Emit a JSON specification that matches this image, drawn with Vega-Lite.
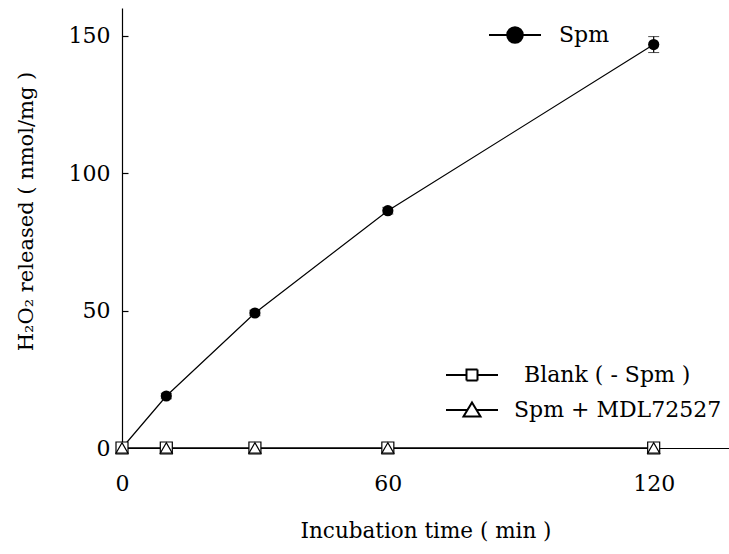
{
  "$schema": "https://vega.github.io/schema/vega-lite/v6.json",
  "width": 607,
  "height": 440,
  "autosize": {"type": "none"},
  "padding": {"left": 122, "top": 8, "right": 0, "bottom": 106},
  "background": "white",
  "config": {
    "view": {"stroke": null},
    "font": "DejaVu Serif",
    "axis": {"labelFont": "DejaVu Serif", "titleFont": "DejaVu Serif", "labelColor": "black", "titleColor": "black", "domainColor": "black", "tickColor": "black", "titleFontWeight": "normal", "grid": false, "domainWidth": 1.2, "tickWidth": 1.2},
    "legend": {"labelFont": "DejaVu Serif", "labelColor": "black", "padding": 0, "labelLimit": 0}
  },
  "data": {
    "values": [
      {"time": 0, "value": 0, "err": 0.5, "series": "Spm"},
      {"time": 10, "value": 18.9, "err": 1.0, "series": "Spm"},
      {"time": 30, "value": 49.1, "err": 1.0, "series": "Spm"},
      {"time": 60, "value": 86.3, "err": 1.2, "series": "Spm"},
      {"time": 120, "value": 146.7, "err": 2.9, "series": "Spm"},
      {"time": 0, "value": 0, "err": 0, "series": "Blank ( - Spm )"},
      {"time": 10, "value": 0, "err": 0, "series": "Blank ( - Spm )"},
      {"time": 30, "value": 0, "err": 0, "series": "Blank ( - Spm )"},
      {"time": 60, "value": 0, "err": 0, "series": "Blank ( - Spm )"},
      {"time": 120, "value": 0, "err": 0, "series": "Blank ( - Spm )"},
      {"time": 0, "value": 0, "err": 0, "series": "Spm + MDL72527"},
      {"time": 10, "value": 0, "err": 0, "series": "Spm + MDL72527"},
      {"time": 30, "value": 0, "err": 0, "series": "Spm + MDL72527"},
      {"time": 60, "value": 0, "err": 0, "series": "Spm + MDL72527"},
      {"time": 120, "value": 0, "err": 0, "series": "Spm + MDL72527"}
    ]
  },
  "encoding": {
    "x": {"field": "time", "type": "quantitative", "scale": {"domain": [0, 137], "nice": false, "zero": false},
      "axis": {"values": [0, 60, 120], "ticks": false, "labelFontSize": 22, "labelPadding": 25, "title": "Incubation time ( min )", "titleFontSize": 21.5, "titlePadding": 26, "labelFlush": false}},
    "y": {"field": "value", "type": "quantitative", "scale": {"domain": [0, 160], "nice": false},
      "axis": {"values": [0, 50, 100, 150], "tickSize": -6, "labelFontSize": 22, "labelPadding": 18, "title": "H₂O₂ released ( nmol/mg )", "titleFontSize": 21, "titlePadding": 32, "titleY": 203, "labelFlush": false}}
  },
  "layer": [
    {
      "transform": [{"filter": "datum.series == 'Blank ( - Spm )'"}],
      "mark": {"type": "line", "color": "black", "strokeWidth": 1.2},
      "encoding": {
        "strokeDash": {"field": "series", "type": "nominal", "scale": {"domain": ["Blank ( - Spm )"], "range": [[1, 0]]},
          "legend": {"title": null, "orient": "none", "legendX": 339, "legendY": 356, "symbolSize": 400, "labelFontSize": 22, "labelOffset": 41,
            "symbolType": "M-2.6,0H-0.55M0.55,0H2.6M-0.55,-0.55H0.55V0.55H-0.55Z",
            "symbolFillColor": "white", "symbolStrokeColor": "black", "symbolStrokeWidth": 2}}
      }
    },
    {
      "transform": [{"filter": "datum.series == 'Spm + MDL72527'"}],
      "mark": {"type": "line", "color": "black", "strokeWidth": 1.2},
      "encoding": {
        "opacity": {"field": "series", "type": "nominal", "scale": {"domain": ["Spm + MDL72527"], "range": [1]},
          "legend": {"title": null, "orient": "none", "legendX": 339, "legendY": 391, "symbolSize": 400, "labelFontSize": 22, "labelOffset": 31,
            "symbolType": "M-2.6,0H-0.46M0.46,0H2.6M0,-0.75L0.85,0.65H-0.85Z",
            "symbolFillColor": "white", "symbolStrokeColor": "black", "symbolStrokeWidth": 2}}
      }
    },
    {
      "transform": [{"filter": "datum.series == 'Spm'"}],
      "mark": {"type": "line", "color": "black", "strokeWidth": 1.2},
      "encoding": {}
    },
    {
      "transform": [{"filter": "datum.series == 'Spm'"}],
      "mark": {"type": "errorbar", "ticks": {"size": 11, "color": "black"}, "rule": {"color": "black", "strokeWidth": 1.2}},
      "encoding": {"yError": {"field": "err"}}
    },
    {
      "transform": [{"filter": "datum.series == 'Spm'"}],
      "mark": {"type": "point", "shape": "circle", "filled": true, "size": 125, "opacity": 1},
      "encoding": {
        "fill": {"field": "series", "type": "nominal", "scale": {"domain": ["Spm"], "range": ["black"]},
          "legend": {"title": null, "orient": "none", "legendX": 382, "legendY": 16, "symbolSize": 400, "labelFontSize": 22, "labelOffset": 33, "symbolStrokeWidth": 2, "symbolStrokeColor": "black",
            "symbolType": "M-2.6,0H2.6M0.78,0A0.78,0.78 0 1,1 -0.78,0A0.78,0.78 0 1,1 0.78,0Z"}}
      }
    },
    {
      "transform": [{"filter": "datum.series != 'Spm'"}],
      "mark": {"type": "point", "filled": false, "fill": "white", "fillOpacity": 1, "stroke": "black", "strokeWidth": 1.2, "size": 144, "opacity": 1},
      "encoding": {
        "shape": {"field": "series", "type": "nominal", "scale": {"range": ["square", "triangle-up"]}, "legend": null}
      }
    }
  ]
}
